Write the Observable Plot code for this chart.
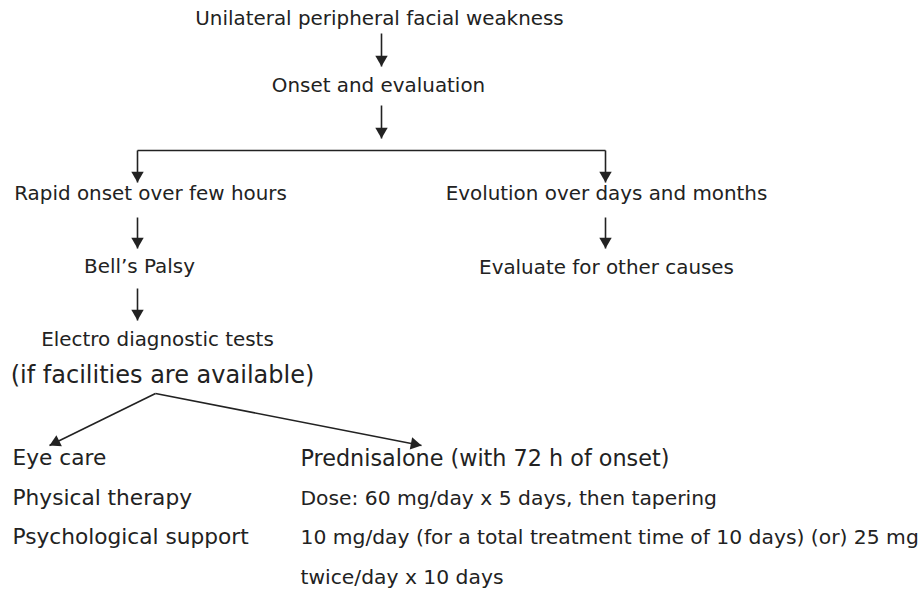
<!DOCTYPE html>
<html><head><meta charset="utf-8">
<script src="https://cdn.jsdelivr.net/npm/d3@7"></script>
<script src="https://cdn.jsdelivr.net/npm/@observablehq/plot@0.6"></script>
<style>body{margin:0;background:#fff}</style>
</head><body><div id="chart"></div>
<script>
// Flowchart node labels
const nodeLabels = [
  "Unilateral peripheral facial weakness",
  "Onset and evaluation",
  "Rapid onset over few hours",
  "Evolution over days and months",
  "Bell\u2019s Palsy",
  "Evaluate for other causes",
  "Electro diagnostic tests",
  "(if facilities are available)"
];
// Treatment lists
const careItems = ["Eye care", "Physical therapy", "Psychological support"];
const drugItems = [
  "Prednisalone (with 72 h of onset)",
  "Dose: 60 mg/day x 5 days, then tapering",
  "10 mg/day (for a total treatment time of 10 days) (or) 25 mg",
  "twice/day x 10 days"
];

// ---- layout (positions in pixel coordinates) ----
const nodeX = [379, 378, 150, 606, 139, 606, 157, 162];
const nodeY = [18, 85, 193, 193, 266, 267, 339, 375];
const nodeSize = [19.9, 19.9, 19.9, 19.9, 19.9, 19.9, 19.9, 24];
const listX = [12, 300];
const careY = [458, 498, 537];
const drugY = [458, 498, 537, 577];
const careSize = 21.7;
const drugSize = [22.3, 20.3, 20.3, 20.3];
// arrows: [x1, y1, x2, y2] (end is arrow tip)
const arrowEdges = [
  [381, 33, 381, 66],
  [381, 105, 381, 138],
  [137, 150, 137, 182],
  [605, 150, 605, 182],
  [137, 217, 137, 248],
  [605, 217, 605, 248],
  [137, 288, 137, 320],
  [155, 393, 49, 445],
  [155, 393, 421, 445]
];
// plain connector
const plainEdges = [[137, 150, 605, 150]];

const ink = "#222";
const nodes = nodeLabels.map((t, i) => ({t, x: nodeX[i], y: nodeY[i], s: nodeSize[i]}));
const left = careItems.map((t, i) => ({t, x: listX[0], y: careY[i]}));
const right = drugItems.map((t, i) => ({t, x: listX[1], y: drugY[i], s: drugSize[i]}));
const shafts = arrowEdges.concat(plainEdges).map(([x1, y1, x2, y2]) => ({x1, y1, x2, y2}));
const headR = 4.6;
const heads = arrowEdges.map(([x1, y1, x2, y2]) => {
  const dx = x2 - x1, dy = y2 - y1, L = Math.hypot(dx, dy);
  const side = Math.sqrt(Math.PI * headR * headR * 4 / Math.sqrt(3));
  const off = side * Math.sqrt(3) / 2 * 2 / 3;
  return {x: x2 - dx / L * off, y: y2 - dy / L * off, a: Math.atan2(dx, -dy) * 180 / Math.PI};
});

const chart = Plot.plot({
  width: 922, height: 589, margin: 0,
  x: {domain: [0, 922], range: [0, 922], axis: null},
  y: {domain: [0, 589], range: [0, 589], axis: null},
  style: {background: "#fff"},
  marks: [
    Plot.link(shafts, {x1: "x1", y1: "y1", x2: "x2", y2: "y2", stroke: ink, strokeWidth: 1.6}),
    Plot.dot(heads, {x: "x", y: "y", rotate: "a", symbol: "triangle", r: headR, fill: ink, stroke: "none"}),
    Plot.text(nodes, {x: "x", y: "y", text: "t", fontSize: "s", fill: ink, textAnchor: "middle",
      fontFamily: "DejaVu Sans"}),
    Plot.text(left, {x: "x", y: "y", text: "t", fontSize: careSize, fill: ink, textAnchor: "start",
      fontFamily: "DejaVu Sans"}),
    Plot.text(right, {x: "x", y: "y", text: "t", fontSize: "s", fill: ink, textAnchor: "start",
      fontFamily: "DejaVu Sans"})
  ]
});
document.getElementById("chart").appendChild(chart);
</script>
</body></html>
